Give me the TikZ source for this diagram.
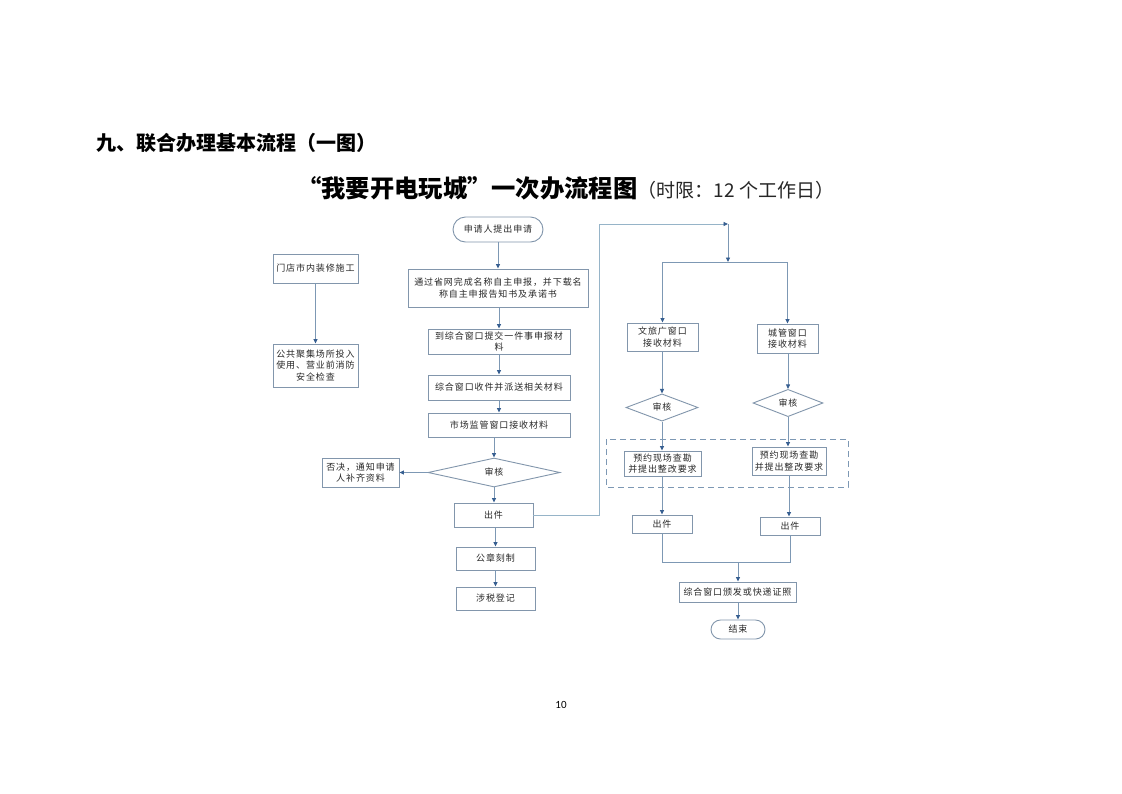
\documentclass[tikz,border=0pt]{standalone}
\usepackage{fontspec}
\setmainfont{Noto Sans CJK SC}
\newfontfamily\pgnumfont{Carlito}
\usetikzlibrary{arrows.meta,shapes.geometric,shapes.misc}
\definecolor{lc}{RGB}{125,152,180}
\definecolor{lc2}{RGB}{150,180,200}
\definecolor{tc}{RGB}{55,95,145}
\definecolor{bc}{RGB}{130,150,172}
\definecolor{txt}{RGB}{40,40,40}
\newcommand\boxfont{\fontsize{9}{11.5}\selectfont\addfontfeature{LetterSpace=10}}
\tikzset{
  base/.style={draw=bc, line width=0.9pt, inner sep=0pt, align=center, text=txt, font=\boxfont},
  box/.style={base, rectangle},
  dia/.style={base, diamond},
  term/.style={base, rounded rectangle},
  conn/.style={draw=lc, line width=0.9pt},
  arr/.style={conn, -{Triangle[length=4.5pt,width=4pt,color=tc]}},
  ttl/.style={inner sep=0pt, text=black},
}
\begin{document}
\begin{tikzpicture}[x=1pt,y=-1pt]
\fill[white] (0,0) rectangle (1122,793);
\useasboundingbox (0,0) rectangle (1122,793);

% titles
\node[ttl, anchor=west, font=\fontsize{20}{24}\selectfont\bfseries] (t1) at (96,143) {九、联合办理基本流程（一图）};
\node[ttl, anchor=west, font=\fontsize{24.3}{29}\selectfont\bfseries] (t2) at (297,188) {“我要开电玩城”一次办流程图};
\node[ttl, anchor=base west, font=\fontsize{19}{23}\selectfont, text=black!85] (t3) at (t2.base east) {（时限：12 个工作日）};
\node[ttl, font=\pgnumfont\fontsize{11}{13}\selectfont] (pg) at (561,705) {10};

% left side column
\node[box, minimum width=85pt, minimum height=29pt] (md) at (315.5,268.5) {门店市内装修施工};
\node[box, minimum width=85pt, minimum height=43pt] (gg) at (315.5,365.5) {公共聚集场所投入\\使用、营业前消防\\安全检查};
\draw[arr] (md) -- (gg);

% main column
\node[term, minimum width=90pt, minimum height=25pt] (sq) at (498,229.5) {申请人提出申请};
\node[box, minimum width=180pt, minimum height=38pt] (n1) at (498,288) {通过省网完成名称自主申报，并下载名\\称自主申报告知书及承诺书};
\node[box, minimum width=142pt, minimum height=25pt] (n2) at (499,341.5) {到综合窗口提交一件事申报材\\料};
\node[box, minimum width=142pt, minimum height=25pt] (n3) at (499,387.5) {综合窗口收件并派送相关材料};
\node[box, minimum width=142pt, minimum height=24pt] (n4) at (499,425) {市场监管窗口接收材料};
\node[dia, minimum width=132pt, minimum height=29pt] (d1) at (494,472.5) {审核};
\node[box, minimum width=77pt, minimum height=29pt] (fj) at (360.5,472.5) {否决，通知申请\\人补齐资料};
\node[box, minimum width=79pt, minimum height=24pt] (ch) at (493.5,515) {出件};
\node[box, minimum width=79pt, minimum height=23pt] (gz) at (495.5,558.5) {公章刻制};
\node[box, minimum width=79pt, minimum height=23pt] (ss) at (495.5,598.5) {涉税登记};

\draw[arr] (sq.south) -- (sq.south |- n1.north);
\draw[arr] (n1.south -| n2.north) -- (n2.north);
\draw[arr] (n2) -- (n3);
\draw[arr] (n3) -- (n4);
\draw[arr] (d1.north |- n4.south) -- (d1.north);
\draw[arr] (d1) -- (fj);
\draw[arr] (d1.south) -- (d1.south |- ch.north);
\draw[arr] (gz.north |- ch.south) -- (gz.north);
\draw[arr] (gz) -- (ss);

% link to the right part
\coordinate (topc) at (728,224);
\coordinate (split) at (728,262);
\draw[arr, draw=lc2] (ch.east) -- ++(66,0) |- (topc);
\draw[arr] (topc) -- (split);

% right part
\node[box, minimum width=71pt, minimum height=28pt] (wl) at (662.5,337) {文旅广窗口\\接收材料};
\node[box, minimum width=61pt, minimum height=29pt] (cg) at (787.5,338.5) {城管窗口\\接收材料};
\node[dia, minimum width=72pt, minimum height=19pt] (dl) at (662,407.5) {审核};
\node[dia, minimum width=70pt, minimum height=20pt] (dr) at (788,403) {审核};
\draw[conn, dashed, dash pattern=on 6pt off 4pt] (606,439) rectangle (848,487);
\node[box, minimum width=77pt, minimum height=25pt] (yl) at (662.5,463.5) {预约现场查勘\\并提出整改要求};
\node[box, minimum width=74pt, minimum height=28pt] (yr) at (789,461) {预约现场查勘\\并提出整改要求};
\node[box, minimum width=60pt, minimum height=18pt] (cl) at (662,524) {出件};
\node[box, minimum width=60pt, minimum height=18pt] (cr) at (790,526) {出件};
\node[box, minimum width=117pt, minimum height=20pt] (fa) at (737.5,592) {综合窗口颁发或快递证照};
\node[term, minimum width=54pt, minimum height=19pt] (js) at (738,629.5) {结束};

\draw[arr] (split) -| (wl);
\draw[arr] (split) -| (cg);
\draw[arr] (wl.south -| dl.north) -- (dl.north);
\draw[arr] (cg.south -| dr.north) -- (dr.north);
\draw[arr] (dl.south) -- (dl.south |- yl.north);
\draw[arr] (dr.south) -- (dr.south |- yr.north);
\draw[arr] (yl.south -| cl.north) -- (cl.north);
\draw[arr] (yr.south) -- (yr.south |- cr.north);
\coordinate (jn) at (738,562);
\draw[conn] (cl.south) |- (jn);
\draw[conn] (cr.south) |- (jn);
\draw[arr] (jn) -- (fa.north -| jn);
\draw[arr] (fa.south -| js.north) -- (js.north);
\end{tikzpicture}
\end{document}
